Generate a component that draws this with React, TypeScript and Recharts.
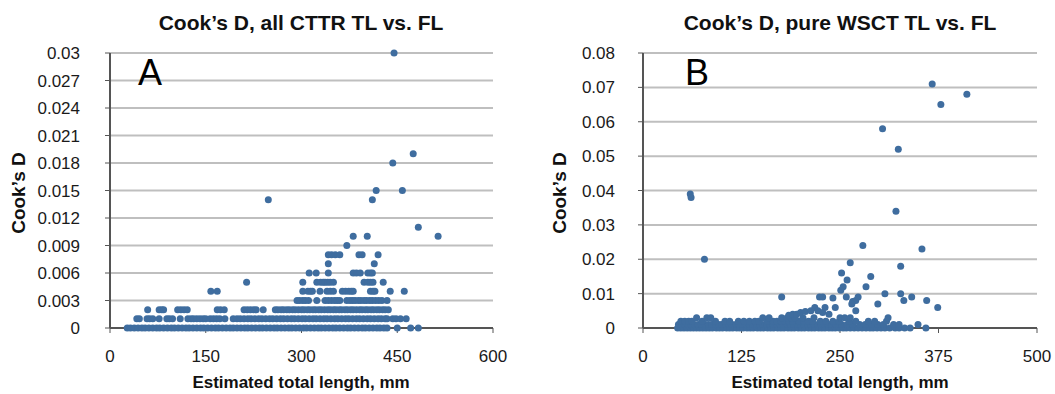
import { ScatterChart, Scatter, XAxis, YAxis, CartesianGrid } from 'recharts';

const DOT = '#3f6d9f';
const FONT = '"Liberation Sans", Arial, sans-serif';

// ---- chart A: all CTTR, Cook's D rounded to 0.001 ----
const aXTicks = [0, 150, 300, 450, 600];
const aYTicks = [0, 0.003, 0.006, 0.009, 0.012, 0.015, 0.018, 0.021, 0.024, 0.027, 0.03];
const aYLabels = ['0', '0.003', '0.006', '0.009', '0.012', '0.015', '0.018', '0.021', '0.024', '0.027', '0.03'];

const aRow0 = [27, 32, 38, 44, 50, 55, 61, 67, 73, 78, 84, 90, 96, 101, 107, 113, 119, 124, 130, 136, 142, 147, 153, 159, 165, 170, 176, 182, 188, 193, 199, 205, 211, 216, 222, 228, 234, 239, 245, 251, 257, 262, 268, 274, 280, 285, 291, 297, 303, 308, 314, 320, 326, 331, 337, 343, 349, 354, 360, 366, 372, 377, 383, 389, 395, 400, 406, 412, 418, 423, 429, 434, 450, 471, 483];
const aRow1 = [42, 46, 58, 62, 67, 77, 89, 93, 98, 110, 122, 127, 131, 136, 141, 146, 150, 157, 162, 167, 172, 180, 193, 199, 204, 210, 216, 221, 227, 233, 238, 244, 250, 255, 261, 267, 272, 278, 284, 289, 295, 301, 306, 312, 318, 323, 329, 335, 340, 346, 352, 357, 363, 369, 374, 380, 386, 391, 397, 403, 408, 414, 420, 425, 431, 434, 443, 448, 455, 464];
const aRow2 = [59, 77, 81, 84, 106, 111, 116, 121, 168, 173, 179, 210, 215, 220, 225, 229, 240, 259, 263, 268, 272, 277, 281, 286, 290, 295, 300, 304, 309, 313, 318, 322, 327, 331, 336, 341, 345, 350, 354, 359, 363, 368, 372, 377, 381, 386, 391, 395, 400, 404, 409, 413, 418, 422, 427, 431, 436];
const aRow3 = [293, 297, 302, 306, 311, 324, 337, 342, 347, 352, 356, 360, 371, 376, 380, 384, 389, 393, 398, 402, 407, 411, 416, 421, 426, 434];
const aRow4 = [158, 168, 302, 310, 314, 317, 329, 340, 345, 350, 364, 369, 374, 378, 381, 408, 412, 415, 439, 461];
const aRow5 = [214, 302, 324, 330, 334, 337, 341, 345, 350, 398, 404, 408, 412, 428];
const aRow6 = [312, 323, 342, 381, 386, 392, 404, 408, 411];
const aRow7 = [342, 414];
const aRow8 = [342, 347, 353, 360, 390, 395, 420];
const aRow9 = [371];
const aRow10 = [381, 403, 514];
const aOutliers = [
  [483, 0.011], [248, 0.014], [411, 0.014], [417, 0.015], [458, 0.015],
  [443, 0.018], [475, 0.019], [445, 0.03],
];

// ---- chart B: pure WSCT ----
const bXTicks = [0, 125, 250, 375, 500];
const bYTicks = [0, 0.01, 0.02, 0.03, 0.04, 0.05, 0.06, 0.07, 0.08];
const bYLabels = ['0', '0.01', '0.02', '0.03', '0.04', '0.05', '0.06', '0.07', '0.08'];

const bRow0 = [44, 48, 52, 56, 60, 64, 68, 72, 76, 80, 84, 88, 93, 97, 101, 106, 110, 114, 119, 123, 127, 132, 136, 140, 145, 149, 153, 158, 162, 166, 171, 175, 179, 184, 188, 192, 197, 201, 205, 210, 214, 218, 223, 227, 231, 236, 240, 244, 249, 254, 258, 263, 268, 273, 278, 283, 288, 292, 297, 302, 307, 313, 320, 325, 332, 339, 359];
const bRow1 = [45, 49, 53, 57, 61, 65, 70, 74, 79, 83, 87, 92, 96, 100, 105, 109, 113, 118, 122, 126, 131, 135, 139, 144, 148, 152, 157, 161, 165, 170, 174, 178, 183, 187, 191, 196, 200, 204, 209, 213, 217, 222, 226, 230, 235, 239, 245, 252, 259, 266, 275, 282, 290, 298, 305, 318, 325, 349];
const bRow2 = [48, 53, 58, 62, 75, 92, 104, 110, 121, 128, 135, 142, 147, 158, 165, 170, 175, 180, 185, 190, 198, 204, 210, 215, 225, 232, 241, 249, 262, 270, 286, 294, 309];
const bRow3 = [68, 81, 86, 152, 160, 176, 183, 188, 193, 203, 217, 250, 256, 263, 311];
const bScatter = [
  [185, 0.0037], [190, 0.004], [195, 0.004], [200, 0.0045], [206, 0.0048], [213, 0.005],
  [218, 0.006], [222, 0.005], [228, 0.0045], [231, 0.006], [236, 0.004], [244, 0.006],
  [224, 0.009], [228, 0.009], [241, 0.0087], [258, 0.009], [266, 0.0077], [270, 0.008],
  [265, 0.007], [270, 0.005], [273, 0.009], [298, 0.007], [251, 0.011], [254, 0.012],
  [283, 0.012], [259, 0.014], [289, 0.015], [252, 0.016], [263, 0.019], [279, 0.024],
  [327, 0.018], [354, 0.023], [321, 0.034], [307, 0.01], [327, 0.01], [331, 0.008],
  [341, 0.009], [360, 0.008], [374, 0.006], [176, 0.009], [78, 0.02], [60, 0.039],
  [61, 0.038], [304, 0.058], [324, 0.052], [367, 0.071], [378, 0.065], [411, 0.068],
];

const toPoints = (xs: number[], y: number) => xs.map((x) => ({ x, y }));
const pairs = (list: number[][]) => list.map(([x, y]) => ({ x, y }));

const aData = [
  ...toPoints(aRow0, 0), ...toPoints(aRow1, 0.001), ...toPoints(aRow2, 0.002),
  ...toPoints(aRow3, 0.003), ...toPoints(aRow4, 0.004), ...toPoints(aRow5, 0.005),
  ...toPoints(aRow6, 0.006), ...toPoints(aRow7, 0.007), ...toPoints(aRow8, 0.008),
  ...toPoints(aRow9, 0.009), ...toPoints(aRow10, 0.01), ...pairs(aOutliers),
];
const bData = [
  ...toPoints(bRow0, 0), ...toPoints(bRow1, 0.001), ...toPoints(bRow2, 0.002),
  ...toPoints(bRow3, 0.003), ...pairs(bScatter),
];

const dot = (p: any) => <circle cx={p.cx} cy={p.cy} r={3.5} fill={DOT} />;

const tickStyle = { fontSize: 17, fill: '#1a1a1a', fontFamily: FONT };

function Panel({ data, xTicks, yTicks, yLabels, width, yAxisWidth, right, yMargin }: any) {
  return (
    <ScatterChart width={width} height={394} margin={{ top: 53, right, bottom: 0, left: 0 }}>
      <CartesianGrid vertical={false} stroke="#bfbfbf" strokeWidth={2} />
      <XAxis
        type="number"
        dataKey="x"
        domain={[xTicks[0], xTicks[xTicks.length - 1]]}
        ticks={xTicks}
        interval={0}
        height={66}
        tickSize={5}
        tickMargin={17}
        tick={tickStyle}
        stroke="#555"
        axisLine={{ stroke: '#555', strokeWidth: 2 }}
      />
      <YAxis
        type="number"
        dataKey="y"
        domain={[0, yTicks[yTicks.length - 1]]}
        ticks={yTicks}
        interval={0}
        width={yAxisWidth}
        tickSize={5}
        tickMargin={yMargin}
        tick={tickStyle}
        tickFormatter={(_v: number, i: number) => yLabels[i]}
        stroke="#555"
        axisLine={{ stroke: '#555', strokeWidth: 2 }}
      />
      <Scatter data={data} shape={dot} isAnimationActive={false} />
    </ScatterChart>
  );
}

export default function App() {
  const bold = { fontFamily: FONT, fontWeight: 700, fill: '#111' };
  return (
    <div style={{ position: 'absolute', left: 0, top: 0, width: 1055, height: 394, background: '#fff' }}>
      <div style={{ position: 'absolute', left: 0, top: 0 }}>
        <Panel data={aData} xTicks={aXTicks} yTicks={aYTicks} yLabels={aYLabels}
          width={527} yAxisWidth={110} right={34} yMargin={25} />
      </div>
      <div style={{ position: 'absolute', left: 527, top: 0 }}>
        <Panel data={bData} xTicks={bXTicks} yTicks={bYTicks} yLabels={bYLabels}
          width={528} yAxisWidth={116} right={18} yMargin={23} />
      </div>
      <svg width={1055} height={394} style={{ position: 'absolute', left: 0, top: 0, pointerEvents: 'none' }}>
        <text x={301} y={30} textAnchor="middle" fontSize={21} {...bold}>Cook’s D, all CTTR TL vs. FL</text>
        <text x={840} y={30} textAnchor="middle" fontSize={21} {...bold}>Cook’s D, pure WSCT TL vs. FL</text>
        <text x={138} y={85} fontSize={36} fontFamily={FONT} fill="#000">A</text>
        <text x={685} y={85} fontSize={36} fontFamily={FONT} fill="#000">B</text>
        <text transform="translate(25,193) rotate(-90)" textAnchor="middle" fontSize={19} {...bold}>Cook’s D</text>
        <text transform="translate(566,193) rotate(-90)" textAnchor="middle" fontSize={19} {...bold}>Cook’s D</text>
        <text x={301} y={388} textAnchor="middle" fontSize={17} {...bold}>Estimated total length, mm</text>
        <text x={840} y={388} textAnchor="middle" fontSize={17} {...bold}>Estimated total length, mm</text>
      </svg>
    </div>
  );
}
